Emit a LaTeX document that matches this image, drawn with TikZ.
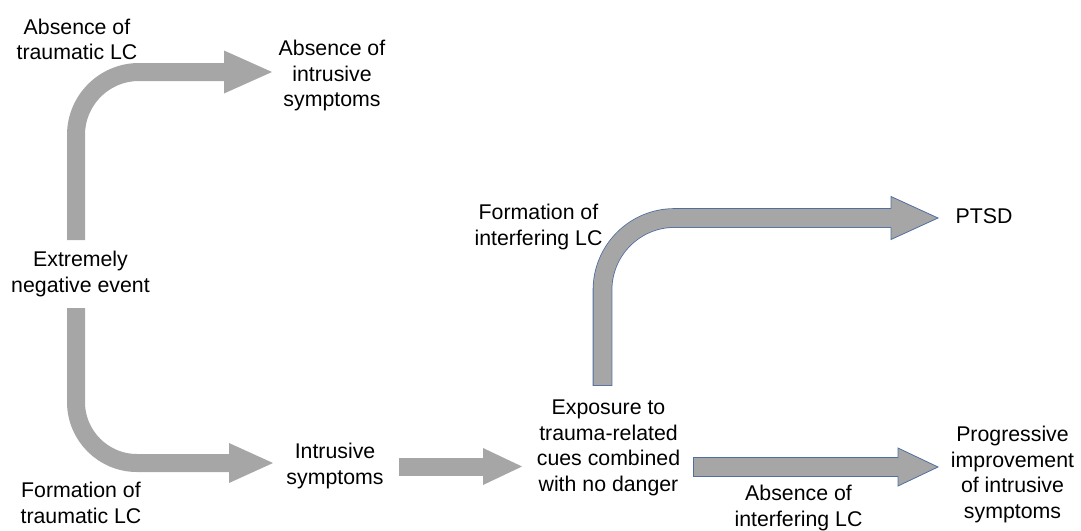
\documentclass[tikz,border=0pt]{standalone}
\usepackage{fontspec}
\setmainfont{Liberation Sans}
\usetikzlibrary{calc}
\definecolor{arrowgray}{RGB}{166,166,166}
\definecolor{outlineblue}{RGB}{80,110,160}
\tikzset{
  lbl/.style={align=center, inner sep=0pt, font=\fontsize{21.3}{25.6}\selectfont},
  shaft/.style={line width=18pt, draw=arrowgray},
  shaftline/.style={line width=19.6pt, draw=outlineblue},
  headfill/.style={fill=arrowgray},
  headline/.style={draw=outlineblue, line width=0.8pt, line join=miter},
}
\begin{document}
\begin{tikzpicture}[x=1pt,y=-1pt]
\useasboundingbox (0,0) rectangle (1081,530);

% text nodes
\node[lbl] (noLC)   at (77,39.5)   {Absence of\\traumatic LC};
\node[lbl] (noSym)  at (332,75.5)  {Absence of\\intrusive\\symptoms};
\node[lbl] (event)  at (80.5,274)  {Extremely\\negative event};
\node[lbl] (formLC) at (81,503)    {Formation of\\traumatic LC};
\node[lbl] (intr)   at (335,466)   {Intrusive\\symptoms};
\node[lbl] (expo)   at (608.5,448) {Exposure to\\trauma-related\\cues combined\\with no danger};
\node[lbl] (formI)  at (538.5,227) {Formation of\\interfering LC};
\node[lbl] (ptsd)   at (984,216)   {PTSD};
\node[lbl] (noI)    at (798.5,508) {Absence of\\interfering LC};
\node[lbl] (prog)   at (1012.5,474.5) {Progressive\\improvement\\of intrusive\\symptoms};

% connector end points
\coordinate (a1s) at (76,240);    \coordinate (a1e) at (272,72);
\coordinate (a2s) at (76,308);    \coordinate (a2e) at (273,463);
\coordinate (a3s) at (399,466.5); \coordinate (a3e) at (522,466.5);
\coordinate (a4s) at (602.5,385); \coordinate (a4e) at (938,218);
\coordinate (a5s) at (694,467);   \coordinate (a5e) at (938,467);

% arrow 1: event -> absence of intrusive symptoms
\draw[shaft, rounded corners=63pt, shorten >=47.5pt] (a1s) |- (a1e);
\fill[headfill] ($(a1e)+(-48,-21.5)$) -- (a1e) -- ($(a1e)+(-48,21.5)$) -- cycle;

% arrow 2: event -> intrusive symptoms
\draw[shaft, rounded corners=61pt, shorten >=43.5pt] (a2s) |- (a2e);
\fill[headfill] ($(a2e)+(-44,-20)$) -- (a2e) -- ($(a2e)+(-44,20)$) -- cycle;

% arrow 3: intrusive symptoms -> exposure
\draw[shaft, shorten >=38.5pt] (a3s) -- (a3e);
\fill[headfill] ($(a3e)+(-39,-18.5)$) -- (a3e) -- ($(a3e)+(-39,18.5)$) -- cycle;

% arrow 4: exposure -> PTSD (outlined)
\draw[shaftline, rounded corners=72pt, shorten >=47pt, shorten <=-0.8pt] (a4s) |- (a4e);
\draw[shaft, rounded corners=72pt, shorten >=46.5pt] (a4s) |- (a4e);
\fill[headfill] ($(a4e)+(-47,-21.5)$) -- (a4e) -- ($(a4e)+(-47,21.5)$) -- cycle;
\draw[headline] ($(a4e)+(-47,-9.4)$) -- ($(a4e)+(-47,-21.5)$) -- (a4e) -- ($(a4e)+(-47,21.5)$) -- ($(a4e)+(-47,9.4)$);

% arrow 5: exposure -> progressive improvement (outlined)
\draw[shaftline, shorten >=40pt, shorten <=-0.8pt] (a5s) -- (a5e);
\draw[shaft, shorten >=39.5pt] (a5s) -- (a5e);
\fill[headfill] ($(a5e)+(-40,-19)$) -- (a5e) -- ($(a5e)+(-40,19)$) -- cycle;
\draw[headline] ($(a5e)+(-40,-9.4)$) -- ($(a5e)+(-40,-19)$) -- (a5e) -- ($(a5e)+(-40,19)$) -- ($(a5e)+(-40,9.4)$);
\end{tikzpicture}
\end{document}
